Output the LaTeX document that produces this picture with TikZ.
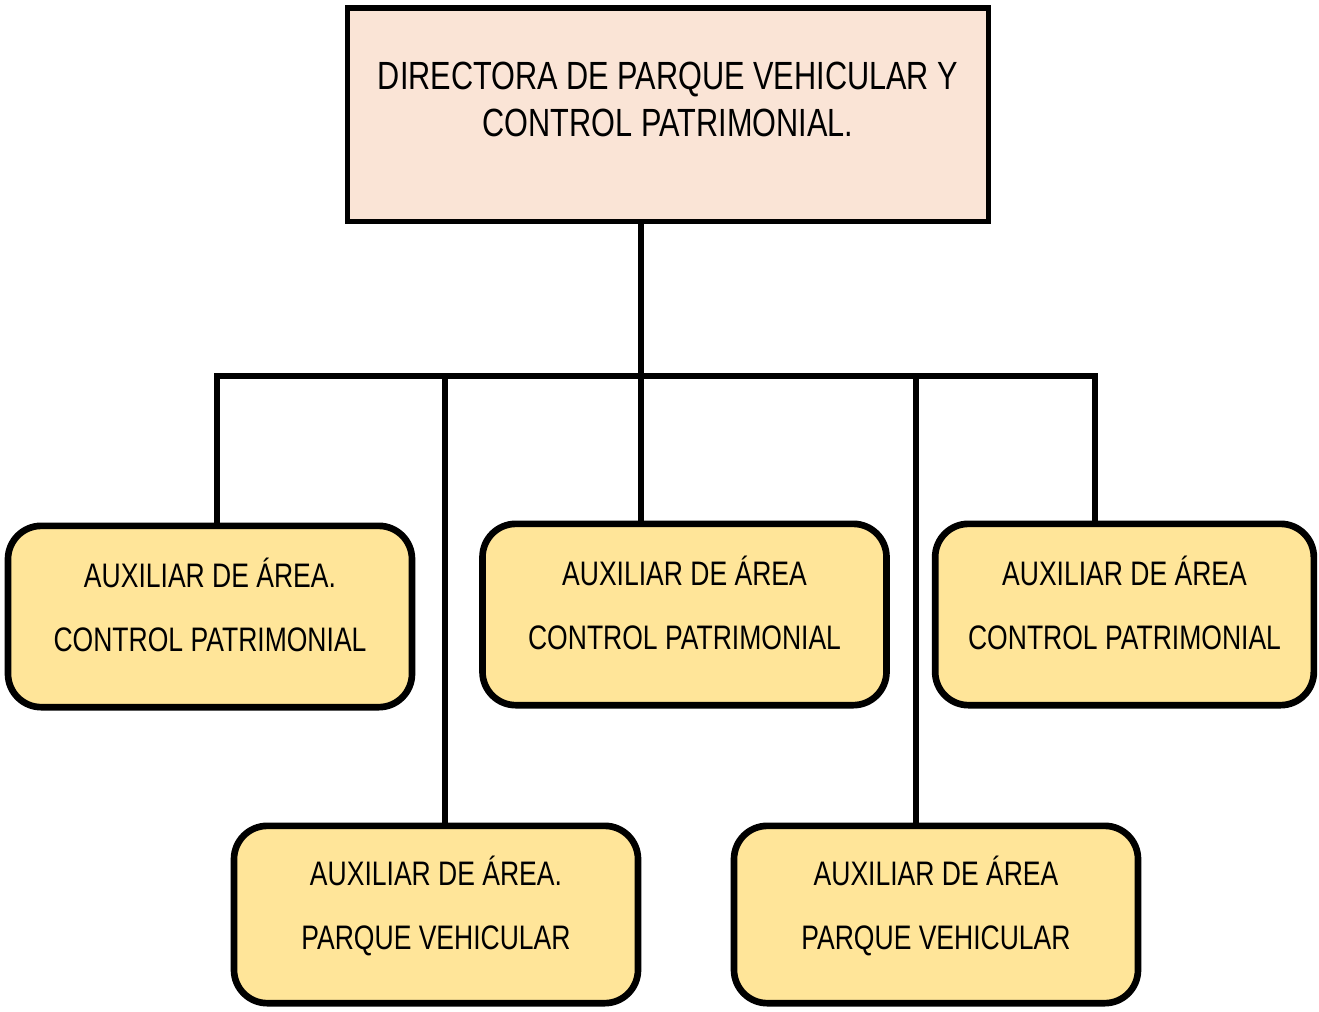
\documentclass[tikz,border=0pt]{standalone}
\usepackage{fontspec}
\setmainfont{Liberation Sans}[FakeStretch=0.78]
\usepackage{xcolor}
\definecolor{dirPeach}{RGB}{250,228,214}
\definecolor{auxGold}{RGB}{255,229,153}

\begin{document}
\begin{tikzpicture}[x=0.75pt, y=-0.75pt,
    dirbox/.style={draw, line width=4pt, fill=dirPeach, minimum width=481pt, minimum height=160pt, text height=0pt, text depth=4pt, font=\fontsize{29.5}{35}\selectfont},
    auxbox/.style={draw, line width=5pt, fill=auxGold, rounded corners=25pt, minimum width=303pt, minimum height=136pt, text height=0pt, text depth=3pt, font=\fontsize{25.5}{48}\selectfont},
    conn/.style={line width=4pt, line join=miter}]
\useasboundingbox (0,0) rectangle (1319,1011);
% boxes
\node[dirbox] (director) at (668,114.5) {\begin{tabular}{c}DIRECTORA DE PARQUE VEHICULAR Y\\CONTROL PATRIMONIAL.\end{tabular}};
\node[auxbox] (aux1) at (210,616.5) {\begin{tabular}{c}AUXILIAR DE ÁREA.\\CONTROL PATRIMONIAL\end{tabular}};
\node[auxbox] (aux2) at (684.5,614.5) {\begin{tabular}{c}AUXILIAR DE ÁREA\\CONTROL PATRIMONIAL\end{tabular}};
\node[auxbox, minimum width=284pt] (aux3) at (1124.5,614.5) {\begin{tabular}{c}AUXILIAR DE ÁREA\\CONTROL PATRIMONIAL\end{tabular}};
\node[auxbox, minimum height=133pt] (aux4) at (436,914.5) {\begin{tabular}{c}AUXILIAR DE ÁREA.\\PARQUE VEHICULAR\end{tabular}};
\node[auxbox, minimum height=133pt] (aux5) at (936,914.5) {\begin{tabular}{c}AUXILIAR DE ÁREA\\PARQUE VEHICULAR\end{tabular}};
% connectors
\coordinate (hub) at (641,376);
\coordinate (busL) at (217,376);
\coordinate (busR) at (1095,376);
\coordinate (dropB) at (445,376);
\coordinate (dropE) at (916,376);
\draw[conn] (hub |- director.south) -- (hub);
\draw[conn] (busL |- aux1.north) -- (busL) -- (busR) -- (busR |- aux3.north);
\draw[conn] (hub) -- (hub |- aux2.north);
\draw[conn] (dropB) -- (dropB |- aux4.north);
\draw[conn] (dropE) -- (dropE |- aux5.north);
\end{tikzpicture}
\end{document}
